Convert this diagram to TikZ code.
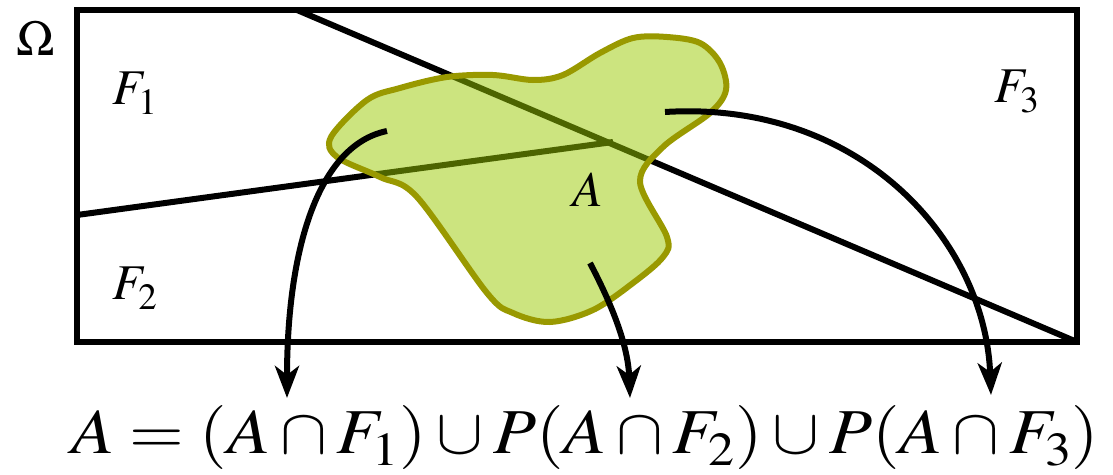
\documentclass[tikz,border=0pt]{standalone}
\usepackage{mathptmx}
\usetikzlibrary{arrows.meta}
\definecolor{blobgreen}{RGB}{153,201,0}
\definecolor{blobolive}{RGB}{153,153,0}
\newcommand{\lsub}[1]{_{\smash{\lower3pt\hbox{$\scriptstyle #1$}}}}
\tikzset{
  frame/.style={line width=6pt},
  cut/.style={line width=6pt},
  % the set A: a see-through green patch, so the cuts show darker under it
  blob/.style={draw=blobolive,line width=6pt,fill=blobgreen,fill opacity=0.5,line join=round},
  lab/.style={font=\fontsize{50}{55}\selectfont,inner sep=0},
  formula/.style={font=\fontsize{64}{70}\selectfont,inner sep=0},
  arrow/.style={-{Stealth[length=32pt,width=24pt,inset=9pt]},line width=6pt},
}

\begin{document}
\begin{tikzpicture}[x=1pt,y=-1pt]
  \useasboundingbox (0,0) rectangle (1113,474);
  % the space Omega and its three pieces
  \coordinate (nw) at (77,10);
  \coordinate (se) at (1077,342);
  \coordinate (cuttop) at (297,10);
  \coordinate (cutleft) at (77,215);
  \coordinate (cutmeet) at (613,142);
  \draw[frame] (nw) rectangle (se);
  \draw[cut] (cuttop) -- (se);
  \draw[cut] (cutleft) -- (cutmeet);
  \node[lab] (omega) at (36,38) {$\Omega$};
  \node[lab] (f1) at (135,92) {$F\lsub1$};
  \node[lab] (f2) at (135,287) {$F\lsub2$};
  \node[lab] (f3) at (1017,90) {$F\lsub3$};
  % the set A
  \draw[blob] plot[smooth cycle,tension=0.55] coordinates {
    (331,137) (367,100) (400,88) (447,77) (493,75) (533,80) (563,75) (600,53)
    (633,38) (667,37) (700,43) (720,63) (726,90) (710,113) (663,147) (640,182)
    (667,237) (663,257) (633,283) (593,310) (550,322) (513,313) (487,293)
    (417,197) (380,177) (337,157)};
  \node[lab] (a) at (588,190) {$A$};
  % the formula and the arrows into it
  \node[formula] (eq) at (585,437) {\scalebox{1.1}[1]{$A=(A\cap F\lsub1)\cup P(A\cap F\lsub2)\cup P(A\cap F\lsub3)$}};
  \coordinate (s1) at (387,131);
  \coordinate (s2) at (590,263);
  \coordinate (s3) at (665,112);
  \coordinate (t1) at (287,398);
  \coordinate (t2) at (630,398);
  \coordinate (t3) at (991,395);
  \draw[arrow] (s1) .. controls (318,145) and (287,250) .. (t1);
  \draw[arrow] (s2) .. controls (612,305) and (628,345) .. (t2);
  \draw[arrow] (s3) .. controls (860,100) and (985,240) .. (t3);
\end{tikzpicture}
\end{document}
